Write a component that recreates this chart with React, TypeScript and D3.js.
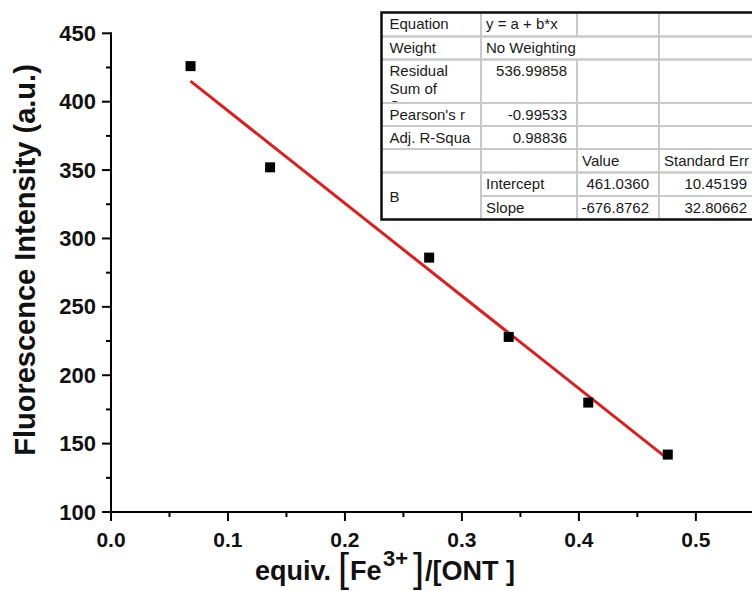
import * as d3 from "d3";

// measured points
const xValues = [0.068, 0.136, 0.272, 0.34, 0.408, 0.476];
const yValues = [426, 352, 286, 228, 180, 142];

// linear fit from the report table
const intercept = 461.036;
const slope = -676.8762;

const xTicks = [0, 0.1, 0.2, 0.3, 0.4, 0.5];
const xMinor = [0.05, 0.15, 0.25, 0.35, 0.45];
const yTicks = [100, 150, 200, 250, 300, 350, 400, 450];
const yMinor = [125, 175, 225, 275, 325, 375, 425];

// fit report cells: [row, col, rowSpan, colSpan, text, align]
const reportCells: [number, number, number, number, string, string][] = [
  [0, 0, 1, 1, "Equation", "start"],
  [0, 1, 1, 1, "y = a + b*x", "start"],
  [0, 2, 1, 1, "", "start"],
  [0, 3, 1, 1, "", "start"],
  [1, 0, 1, 1, "Weight", "start"],
  [1, 1, 1, 2, "No Weighting", "start"],
  [1, 3, 1, 1, "", "start"],
  [2, 0, 1, 1, "Residual\nSum of\nSquares", "start"],
  [2, 1, 1, 1, "536.99858", "end"],
  [2, 2, 1, 1, "", "start"],
  [2, 3, 1, 1, "", "start"],
  [3, 0, 1, 1, "Pearson's r", "start"],
  [3, 1, 1, 1, "-0.99533", "end"],
  [3, 2, 1, 1, "", "start"],
  [3, 3, 1, 1, "", "start"],
  [4, 0, 1, 1, "Adj. R-Squa", "start"],
  [4, 1, 1, 1, "0.98836", "end"],
  [4, 2, 1, 1, "", "start"],
  [4, 3, 1, 1, "", "start"],
  [5, 0, 1, 1, "", "start"],
  [5, 1, 1, 1, "", "start"],
  [5, 2, 1, 1, "Value", "start"],
  [5, 3, 1, 1, "Standard Err", "start"],
  [6, 0, 2, 1, "B", "mid"],
  [6, 1, 1, 1, "Intercept", "start"],
  [6, 2, 1, 1, "461.0360", "end"],
  [6, 3, 1, 1, "10.45199", "end"],
  [7, 1, 1, 1, "Slope", "start"],
  [7, 2, 1, 1, "-676.8762", "end"],
  [7, 3, 1, 1, "32.80662", "end"],
];

const W = 752;
const H = 591;
const font = "'Liberation Sans', Arial, sans-serif";

const colX = [381.5, 481, 577, 659, 757];
const rowY = [12.5, 36.5, 59.5, 103, 126, 149, 172.5, 196, 219.5];

function FitTable() {
  return (
    <g fontFamily={font} fontSize={15} fill="#1a1a1a">
      <defs>
        {reportCells.map(([r, c, rs, cs], i) => (
          <clipPath id={"cell" + i} key={i}>
            <rect
              x={colX[c]}
              y={rowY[r]}
              width={colX[c + cs] - colX[c]}
              height={rowY[r + rs] - rowY[r] - 1}
            />
          </clipPath>
        ))}
      </defs>
      <rect x={colX[0]} y={rowY[0]} width={colX[4] - colX[0]} height={rowY[8] - rowY[0]} fill="#fff" />
      {reportCells.map(([r, c, rs, cs], i) => (
        <rect
          key={"b" + i}
          x={colX[c]}
          y={rowY[r]}
          width={colX[c + cs] - colX[c]}
          height={rowY[r + rs] - rowY[r]}
          fill="none"
          stroke="#c9c9c9"
          strokeWidth={2}
        />
      ))}
      <rect
        x={colX[0]}
        y={rowY[0]}
        width={colX[4] - colX[0]}
        height={rowY[8] - rowY[0]}
        fill="none"
        stroke="#111"
        strokeWidth={2.5}
      />
      {reportCells.map(([r, c, rs, cs, text, align], i) => {
        if (!text) return null;
        const lines = text.split("\n");
        const left = colX[c] + (c === 0 ? 8 : 5);
        const right = colX[c + cs] - 10;
        const base = align === "mid" ? (rowY[r] + rowY[r + rs]) / 2 + 5.5 : rowY[r] + 16.5;
        return (
          <text
            key={"t" + i}
            x={align === "end" ? right : left}
            y={base}
            textAnchor={align === "end" ? "end" : "start"}
            clipPath={`url(#cell${i})`}
          >
            {lines.map((ln, k) => (
              <tspan key={k} x={align === "end" ? right : left} dy={k === 0 ? 0 : 17.5}>
                {ln}
              </tspan>
            ))}
          </text>
        );
      })}
    </g>
  );
}

export default function App() {
  const x = d3.scaleLinear().domain([0, 0.548]).range([111, 752]);
  const y = d3.scaleLinear().domain([100, 450]).range([512, 33.3]);

  const xEnds = [d3.min(xValues) as number, d3.max(xValues) as number];
  const fitLine = d3
    .line<number>()
    .x((d) => x(d))
    .y((d) => y(intercept + slope * d))(xEnds);

  const x0 = x(0);
  const y0 = y(100);

  return (
    <svg
      width={W}
      height={H}
      style={{ position: "absolute", left: 0, top: 0, background: "#fff" }}
    >
      {/* axes */}
      <g stroke="#000" strokeWidth={2}>
        <line x1={x0} x2={W} y1={y0} y2={y0} />
        <line x1={x0} x2={x0} y1={y0} y2={y(450) - 1} />
        {xTicks.map((t) => (
          <line key={"xt" + t} x1={x(t)} x2={x(t)} y1={y0} y2={y0 + 9} />
        ))}
        {xMinor.map((t) => (
          <line key={"xm" + t} x1={x(t)} x2={x(t)} y1={y0} y2={y0 + 5} />
        ))}
        {yTicks.map((t) => (
          <line key={"yt" + t} x1={x0} x2={x0 - 9} y1={y(t)} y2={y(t)} />
        ))}
        {yMinor.map((t) => (
          <line key={"ym" + t} x1={x0} x2={x0 - 5} y1={y(t)} y2={y(t)} />
        ))}
      </g>

      <g fontFamily={font} fontWeight="bold" fontSize={21} fill="#111">
        {xTicks.map((t) => (
          <text key={"xl" + t} x={x(t)} y={y0 + 35} textAnchor="middle">
            {d3.format(".1f")(t)}
          </text>
        ))}
        {yTicks.map((t) => (
          <text
            key={"yl" + t}
            x={x0 - 15}
            y={y(t)}
            textAnchor="end"
            dominantBaseline="central"
            fontSize={22}
          >
            {t}
          </text>
        ))}
      </g>

      {/* axis titles */}
      <text
        transform="translate(35,260) rotate(-90)"
        textAnchor="middle"
        fontFamily={font}
        fontWeight="bold"
        fontSize={29}
        fill="#111"
      >
        Fluorescence Intensity (a.u.)
      </text>
      <text fontFamily={font} fontWeight="bold" fontSize={27} fill="#111" y={580}>
        <tspan x={255}>equiv.</tspan>
        <tspan x={338} y={582} fontWeight="normal" fontSize={40}>[</tspan>
        <tspan x={350} y={580}>Fe</tspan>
        <tspan x={383} y={566} fontSize={22}>3+</tspan>
        <tspan x={413} y={582} fontWeight="normal" fontSize={40}>]</tspan>
        <tspan x={425} y={580}>/[ONT ]</tspan>
      </text>

      {/* fit line and points */}
      <path d={fitLine || ""} fill="none" stroke="#d8201f" strokeWidth={3} />
      {xValues.map((v, i) => (
        <rect key={"p" + i} x={x(v) - 5} y={y(yValues[i]) - 5} width={10} height={10} fill="#000" />
      ))}

      <FitTable />
    </svg>
  );
}
